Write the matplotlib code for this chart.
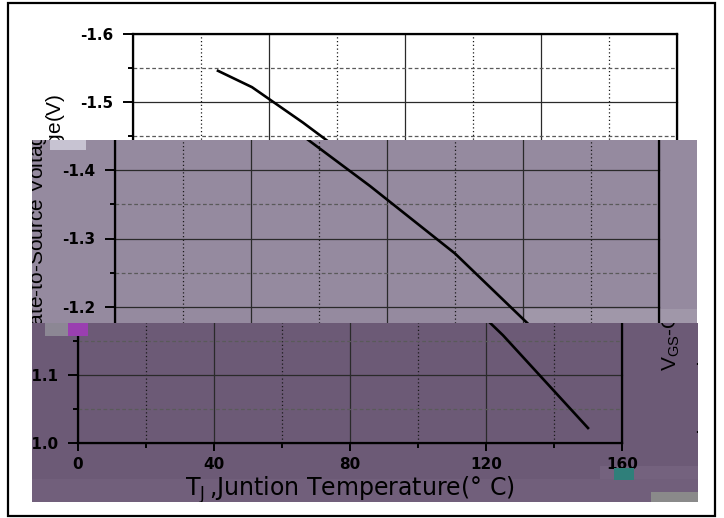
import matplotlib
matplotlib.use('Agg')
import matplotlib.pyplot as plt
from matplotlib.patches import Rectangle
from matplotlib.transforms import Bbox

plt.rcParams['font.family'] = ['DejaVu Sans']
plt.rcParams['mathtext.default'] = 'regular'

# ---------------- data ----------------
temperature = [25, 35, 50, 75, 100, 125, 150]
vgs_th = [-1.546, -1.522, -1.470, -1.377, -1.278, -1.158, -1.022]

x_major = [0, 40, 80, 120, 160]
x_major_labels = ['0', '40', '80', '120', '160']
x_minor = [20, 60, 100, 140]
y_major = [-1.6, -1.5, -1.4, -1.3, -1.2, -1.1, -1.0]
y_major_labels = ['-1.6', '-1.5', '-1.4', '-1.3', '-1.2', '-1.1', '-1.0']
y_minor = [-1.55, -1.45, -1.35, -1.25, -1.15, -1.05]

x_label = r'T$_{J}\,$,Juntion Temperature(° C)'
y_label = r'V$_{GS}$-Gate-to-Source Voltage(V)'

# ---------------- layout (pixels, top-left origin) ----------------
W, H = 724, 518
AX_L, AX_T, AX_R, AX_B = 133, 34, 677, 443
# horizontally displaced bands of the (damaged) picture:
# (dx, dy, x0, y0, x1, y1, tint)
bands = [
    (0, 0, 0, 0, 724, 140, None),
    (-18, 0, 32, 140, 697, 323, '#958a9f'),
    (-55, 0, 32, 323, 698, 502, '#6c5a76'),
    (615, -13, 32, 323, 698, 502, None),
]

fig = plt.figure(figsize=(W / 100, H / 100), dpi=100)
fig.patch.set_facecolor('white')


def fig_rect(x0, y0, x1, y1, color, z=-5, **kw):
    r = Rectangle((x0 / W, (H - y1) / H), (x1 - x0) / W, (y1 - y0) / H,
                  transform=fig.transFigure, facecolor=color,
                  edgecolor='none', zorder=z, **kw)
    fig.patches.append(r)
    return r


def build_axes(dx, dy):
    ax = fig.add_axes([(AX_L + dx) / W, (H - (AX_B + dy)) / H,
                       (AX_R - AX_L) / W, (AX_B - AX_T) / H])
    ax.set_facecolor('none')
    ax.set_axisbelow(True)
    ax.plot(temperature, vgs_th, color='black', lw=1.9, zorder=3)
    ax.set_xlim(0, 160)
    ax.set_ylim(-1.0, -1.6)
    ax.set_xticks(x_major, x_major_labels)
    ax.set_xticks(x_minor, minor=True)
    ax.set_yticks(y_major, y_major_labels)
    ax.set_yticks(y_minor, minor=True)
    ax.grid(which='major', color='#2a2a2a', lw=0.9, ls='-')
    ax.xaxis.grid(which='minor', color='#1a1a1a', lw=0.9, ls=(0, (1, 2)))
    ax.yaxis.grid(which='minor', color='#5a5a5a', lw=0.9, ls=(0, (3, 2)))
    for s in ax.spines.values():
        s.set_linewidth(1.6)
        s.set_color('black')
    ax.tick_params(axis='x', which='major', length=6, width=1.4, pad=4,
                   labelsize=11, direction='out')
    ax.tick_params(axis='x', which='minor', length=3.5, width=1.4,
                   direction='out')
    ax.tick_params(axis='y', which='major', length=7, width=1.4, pad=7,
                   labelsize=11, direction='out')
    ax.tick_params(axis='y', which='minor', length=3.5, width=1.4,
                   direction='out')
    for t in ax.get_xticklabels() + ax.get_yticklabels():
        t.set_fontweight('bold')
    ax.set_xlabel(x_label, fontsize=17, family='DejaVu Sans')
    ax.xaxis.set_label_coords(0.5, -0.076)
    ax.set_ylabel(y_label, fontsize=15, family='Liberation Sans')
    ax.yaxis.set_label_coords(-0.121, 0.5)
    return ax


axes = []
for dx, dy, x0, y0, x1, y1, tint in bands:
    if tint is not None:
        fig_rect(x0, y0, x1, y1, tint)
    axes.append(build_axes(dx, dy))

# lighter sub-bands / damaged blocks
fig_rect(525, 309, 697, 323, '#a097a9', z=-4)
fig_rect(600, 466, 698, 479, '#74627e', z=-4)
fig_rect(32, 479, 698, 502, '#715f7b', z=-4)
fig_rect(651, 492, 698, 502, '#8a8a8a', z=10)
fig_rect(45, 323, 68, 336, '#8c8794', z=10)
fig_rect(68, 323, 88, 336, '#9a3fb0', z=10)
fig_rect(614, 468, 634, 480, '#2f7f7a', z=10)
fig_rect(50, 140, 86, 150, '#c7c3d2', z=10)

fig.canvas.draw()
for ax, (dx, dy, x0, y0, x1, y1, tint) in zip(axes, bands):
    bb = Bbox.from_extents(x0, H - y1, x1, H - y0)
    for art in ax.findobj():
        if art is ax:
            continue
        art.set_clip_on(True)
        art.set_clip_box(bb)

# outer frame
frame = Rectangle((8 / W, (H - 516) / H), (715 - 8) / W, (516 - 3) / H,
                  transform=fig.transFigure, fill=False, edgecolor='black',
                  lw=1.6, zorder=20)
fig.patches.append(frame)

fig.savefig('out.png', dpi=100)
